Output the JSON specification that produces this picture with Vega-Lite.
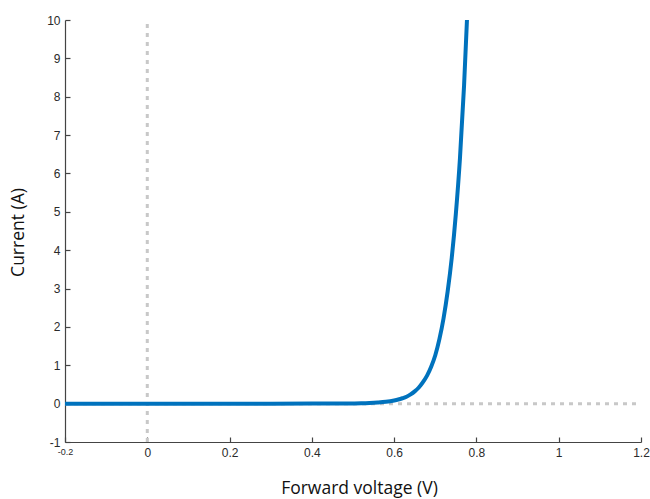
{
  "$schema": "https://vega.github.io/schema/vega-lite/v6.json",
  "autosize": {"type": "none"},
  "width": 576,
  "height": 422,
  "padding": {"left": 65, "top": 20, "right": 9, "bottom": 57},
  "background": "white",
  "config": {
    "view": {"stroke": null},
    "axis": {
      "grid": false,
      "domainColor": "#444444",
      "domainWidth": 1.2,
      "tickColor": "#444444",
      "tickWidth": 1.2,
      "tickSize": -5,
      "labelOverlap": false,
      "labelFlush": false,
      "labelFont": "Liberation Sans",
      "labelFontSize": 12,
      "labelColor": "#2a2a2a",
      "titleFont": "Open Sans",
      "titleFontSize": 17.5,
      "titleFontWeight": "normal",
      "titleColor": "#111111"
    }
  },
  "encoding": {
    "x": {
      "field": "voltage",
      "type": "quantitative",
      "scale": {"domain": [-0.2, 1.2], "nice": false, "zero": false},
      "axis": {
        "title": "Forward voltage (V)",
        "values": [-0.2, 0, 0.2, 0.4, 0.6, 0.8, 1, 1.2],
        "labelExpr": "'' + datum.value",
        "labelFontSize": {"condition": {"test": "datum.value < -0.1", "value": 9}, "value": 12},
        "labelPadding": 10,
        "titleX": 294,
        "titleY": 46,
        "titleBaseline": "middle"
      }
    },
    "y": {
      "field": "current",
      "type": "quantitative",
      "scale": {"domain": [-1, 10], "nice": false, "zero": false},
      "axis": {
        "title": "Current (A)",
        "values": [-1, 0, 1, 2, 3, 4, 5, 6, 7, 8, 9, 10],
        "labelExpr": "'' + datum.value",
        "labelPadding": 10,
        "titleX": -47,
        "titleY": 212,
        "titleAngle": -90,
        "titleAlign": "center",
        "titleBaseline": "middle"
      }
    }
  },
  "layer": [
    {
      "data": {"values": [{"voltage": 0, "current": -1, "current_end": 10}]},
      "mark": {"type": "rule", "color": "#c8c8c8", "strokeWidth": 3, "strokeDash": [4, 5]},
      "encoding": {"y2": {"field": "current_end"}}
    },
    {
      "data": {"values": [{"voltage": -0.2, "voltage_end": 1.2, "current": 0}]},
      "mark": {"type": "rule", "color": "#c8c8c8", "strokeWidth": 3, "strokeDash": [4, 5]},
      "encoding": {"x2": {"field": "voltage_end"}}
    },
    {
      "data": {
        "values": [
          {"voltage": -0.2, "current": 0},
          {"voltage": 0.0, "current": 0},
          {"voltage": 0.2, "current": 0},
          {"voltage": 0.3, "current": 0.0001},
          {"voltage": 0.4, "current": 0.0004},
          {"voltage": 0.45, "current": 0.0014},
          {"voltage": 0.5, "current": 0.0054},
          {"voltage": 0.52, "current": 0.009},
          {"voltage": 0.54, "current": 0.016},
          {"voltage": 0.56, "current": 0.028},
          {"voltage": 0.58, "current": 0.047},
          {"voltage": 0.6, "current": 0.082},
          {"voltage": 0.61, "current": 0.107},
          {"voltage": 0.62, "current": 0.14},
          {"voltage": 0.63, "current": 0.18},
          {"voltage": 0.64, "current": 0.24},
          {"voltage": 0.65, "current": 0.32},
          {"voltage": 0.66, "current": 0.42},
          {"voltage": 0.67, "current": 0.56},
          {"voltage": 0.68, "current": 0.73},
          {"voltage": 0.69, "current": 0.96},
          {"voltage": 0.7, "current": 1.26},
          {"voltage": 0.71, "current": 1.68},
          {"voltage": 0.72, "current": 2.22},
          {"voltage": 0.73, "current": 2.92},
          {"voltage": 0.74, "current": 3.8},
          {"voltage": 0.75, "current": 4.95},
          {"voltage": 0.76, "current": 6.4},
          {"voltage": 0.77, "current": 8.3},
          {"voltage": 0.777, "current": 10}
        ]
      },
      "mark": {"type": "line", "color": "#0072bd", "strokeWidth": 4, "interpolate": "monotone"}
    }
  ]
}
